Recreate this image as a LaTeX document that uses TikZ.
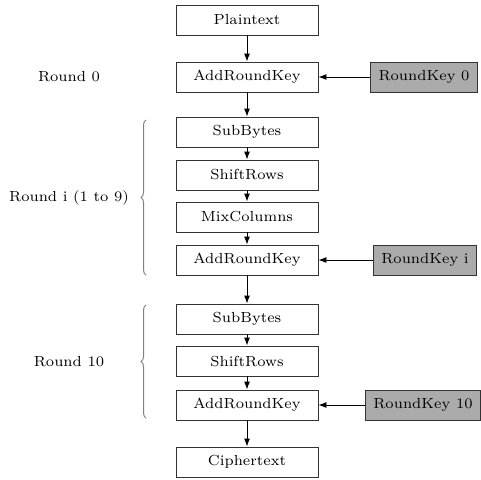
\documentclass[tikz,border=0pt]{standalone}
\usepackage{fontspec}
\setmainfont{lmroman7-regular.otf}
\usetikzlibrary{arrows.meta,decorations.pathreplacing}
\definecolor{keygray}{gray}{0.67}
\definecolor{linegray}{gray}{0.2}
\begin{document}
\begin{tikzpicture}[x=1pt,y=-1pt,
  font=\fontsize{14.6}{17}\selectfont,
  stepbox/.style={draw=linegray,line width=0.9pt,minimum width=142pt,minimum height=30pt,inner sep=0pt},
  keybox/.style={draw=linegray,line width=0.9pt,fill=keygray,minimum height=30pt,inner xsep=8pt,inner ysep=0pt},
  conn/.style={-{Latex[length=8pt,width=6pt]},line width=0.9pt,draw=black},
  bracestyle/.style={draw=gray,line width=1pt,decorate,decoration={brace,amplitude=5pt}},
  lbl/.style={}]
\useasboundingbox (0,0) rectangle (481,479);
\node[stepbox] (pt) at (247,20) {Plaintext};
\node[stepbox] (ark0) at (247,77) {AddRoundKey};
\node[stepbox] (sb1) at (247,132) {SubBytes};
\node[stepbox] (sr1) at (247,175) {ShiftRows};
\node[stepbox] (mc1) at (247,217) {MixColumns};
\node[stepbox] (ark1) at (247,260) {AddRoundKey};
\node[stepbox] (sb2) at (247,319) {SubBytes};
\node[stepbox] (sr2) at (247,361) {ShiftRows};
\node[stepbox] (ark2) at (247,405) {AddRoundKey};
\node[stepbox] (ct) at (247,462) {Ciphertext};
\node[keybox] (k0) at (424,77) {RoundKey 0};
\node[keybox] (ki) at (425,260) {RoundKey i};
\node[keybox] (k10) at (423,405) {RoundKey 10};
\node[lbl] (l0) at (69,77) {Round 0};
\node[lbl] (li) at (69,198) {Round i (1 to 9)};
\node[lbl] (l10) at (69,362) {Round 10};
\draw[conn] (pt) -- (ark0);
\draw[conn] (ark0) -- (sb1);
\draw[conn] (sb1) -- (sr1);
\draw[conn] (sr1) -- (mc1);
\draw[conn] (mc1) -- (ark1);
\draw[conn] (ark1) -- (sb2);
\draw[conn] (sb2) -- (sr2);
\draw[conn] (sr2) -- (ark2);
\draw[conn] (ark2) -- (ct);
\draw[conn] (k0) -- (ark0);
\draw[conn] (ki) -- (ark1);
\draw[conn] (k10) -- (ark2);
\coordinate (b1t) at (146,120);
\coordinate (b1b) at (146,275);
\coordinate (b2t) at (146,305);
\coordinate (b2b) at (146,418);
\draw[bracestyle] (b1b) -- (b1t);
\draw[bracestyle] (b2b) -- (b2t);
\end{tikzpicture}
\end{document}
